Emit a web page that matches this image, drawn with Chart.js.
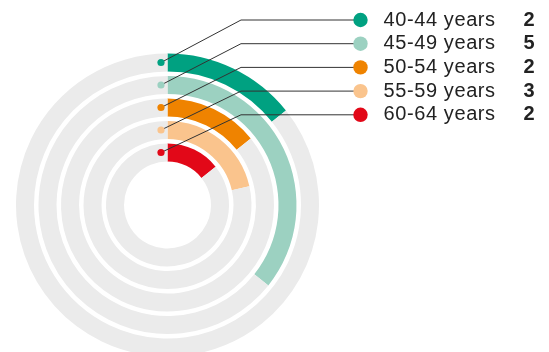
<!DOCTYPE html>
<html>
<head>
<meta charset="utf-8">
<script src="https://cdn.jsdelivr.net/npm/chart.js@4/dist/chart.umd.min.js"></script>
<style>
  html, body { margin: 0; padding: 0; background: #ffffff; overflow: hidden; }
  #wrap { position: relative; width: 549px; height: 362px; }
</style>
</head>
<body>
<div id="wrap"><canvas id="c"></canvas></div>
<script>
const categories = ['40-44 years', '45-49 years', '50-54 years', '55-59 years', '60-64 years'];
const counts = [2, 5, 2, 3, 2];
const colors = ['#00A181', '#9CD1C1', '#EF8300', '#FAC48D', '#E20818'];
const trackColor = '#EBEBEB';

const total = counts.reduce((a, b) => a + b, 0);

const datasets = [];
categories.forEach((cat, i) => {
  if (i > 0) {
    datasets.push({ label: 'gap' + i, data: [1], backgroundColor: ['rgba(0,0,0,0)'], borderWidth: 0, weight: 0.25, isGap: true });
  }
  datasets.push({
    label: cat,
    data: [counts[i], total - counts[i]],
    backgroundColor: [colors[i], trackColor],
    borderWidth: 0,
    weight: 1,
    ringIndex: i
  });
});

const leaderPlugin = {
  id: 'leaders',
  afterDatasetsDraw(chart) {
    const ctx = chart.ctx;
    const legendX = 360.5;
    const legendY0 = 20;
    const legendStep = 23.7;
    const elbowOffset = 73.5;
    ctx.save();
    chart.data.datasets.forEach((ds, di) => {
      if (ds.isGap) return;
      const i = ds.ringIndex;
      const meta = chart.getDatasetMeta(di);
      const ctrl = meta.controller;
      const arc = meta.data[0];
      const cx = arc.x, cy = arc.y;
      const rMid = (ctrl.outerRadius + ctrl.innerRadius) / 2;
      const dx = cx - 6.5, dy = cy - rMid;
      const ly = legendY0 + i * legendStep;
      // leader line
      ctx.beginPath();
      ctx.strokeStyle = '#333333';
      ctx.lineWidth = 1;
      ctx.moveTo(dx, dy);
      ctx.lineTo(cx + elbowOffset, ly);
      ctx.lineTo(legendX, ly);
      ctx.stroke();
      // small dot
      ctx.beginPath();
      ctx.fillStyle = colors[i];
      ctx.arc(dx, dy, 3.6, 0, Math.PI * 2);
      ctx.fill();
      // legend dot
      ctx.beginPath();
      ctx.arc(legendX, ly, 7.2, 0, Math.PI * 2);
      ctx.fill();
      // label
      ctx.fillStyle = '#222222';
      ctx.textBaseline = 'middle';
      ctx.textAlign = 'left';
      ctx.font = '20px "Liberation Sans", Arial, sans-serif';
      if ('letterSpacing' in ctx) ctx.letterSpacing = '0.6px';
      ctx.fillText(categories[i], 383.5, ly);
      if ('letterSpacing' in ctx) ctx.letterSpacing = '0px';
      ctx.textAlign = 'right';
      ctx.font = 'bold 20px "Liberation Sans", Arial, sans-serif';
      ctx.fillText(String(counts[i]), 534.5, ly);
    });
    ctx.restore();
  }
};

new Chart(document.getElementById('c'), {
  type: 'doughnut',
  data: { labels: ['value', 'remaining'], datasets: datasets },
  options: {
    responsive: true,
    maintainAspectRatio: false,
    animation: false,
    cutout: 43.5,
    rotation: 0,
    layout: { padding: { left: 16, right: 230, top: 48, bottom: 0 } },
    plugins: { legend: { display: false }, tooltip: { enabled: false } },
    elements: { arc: { borderWidth: 0, hoverOffset: 0 } }
  },
  plugins: [leaderPlugin]
});
</script>
</body>
</html>
